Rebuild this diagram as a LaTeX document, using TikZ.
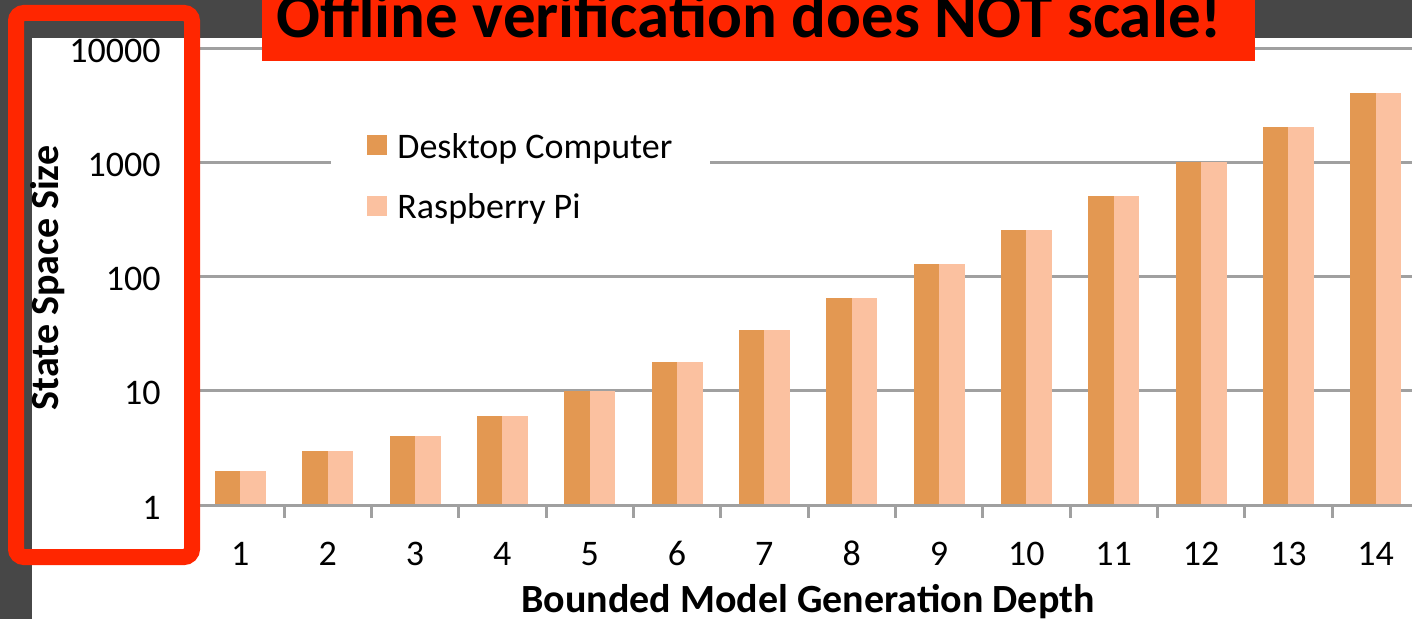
\documentclass[tikz,border=0pt]{standalone}
\usepackage{fontspec}
\setmainfont{Carlito}
\definecolor{slidegray}{RGB}{71,71,71}
\definecolor{alertred}{RGB}{255,38,0}
\definecolor{desktopbar}{RGB}{227,152,82}
\definecolor{pibar}{RGB}{251,193,160}
\definecolor{gridgray}{RGB}{160,160,160}
\tikzset{
	axislabel/.style={font=\fontsize{18}{21}\selectfont,inner sep=0pt},
	axistitle/.style={font=\fontsize{20}{24}\selectfont\bfseries,inner sep=0pt},
	gridline/.style={gridgray,line width=1.5pt},
}
\begin{document}
\begin{tikzpicture}[x=0.5pt,y=-0.5pt]
				\useasboundingbox (0,0) rectangle (1412,619);
				\clip (0,0) rectangle (1412,619);
				\fill[white] (0,0) rectangle (1412,619);
				\fill[slidegray] (0,0) rectangle (1412,38);
				\fill[slidegray] (0,0) rectangle (32,619);
				% grid, one line per decade
				\foreach \dec in {1,2,3,4} \draw[gridline] (200,505-114*\dec) to (1412,505-114*\dec);
				% bars
				\foreach \val [count=\k] in {2,3,4,6,10,18,34,66,130,258,514,1026,2050,4098} {
					\pgfmathsetmacro\barc{196.7+87.33*(\k-0.5)}
					\pgfmathsetmacro\bartop{505-114*ln(\val)/ln(10)}
					\fill[desktopbar] (\barc-25.5,505) rectangle (\barc,\bartop);
					\fill[pibar] (\barc,505) rectangle (\barc+25.5,\bartop);
					\node[axislabel,anchor=base] (xlab\k) at (\barc,565) {\k};
				}
				\draw[gridline] (200,505) to (1412,505);
				\foreach \k in {1,2,...,13} \draw[gridline] (196.7+87.33*\k,505) to (196.7+87.33*\k,518);
				\foreach \dec/\lab in {0/1,1/10,2/100,3/1000,4/10000} \node[axislabel,anchor=base east] (ylab\dec) at (161,519-114*\dec) {\lab};
				\node[axistitle,anchor=base] (xtitle) at (808,612) {Bounded Model Generation Depth};
				\node[axistitle,rotate=90] (ytitle) at (48,278) {State Space Size};
				% legend
				\fill[white] (331,118) rectangle (710,240);
				\fill[desktopbar] (367,135) rectangle (387,155);
				\fill[pibar] (367,196) rectangle (387,216);
				\node[axislabel,anchor=base west] (desktop) at (397,159) {Desktop Computer};
				\node[axislabel,anchor=base west] (pi) at (397,219) {Raspberry Pi};
				% title and frame
				\fill[alertred] (262,-5) rectangle (1255,61);
				\node[axistitle,font=\fontsize{32.5}{36}\selectfont\bfseries,anchor=base] (title) at (749,38) {Offline verification does NOT scale!};
				\draw[alertred,line width=8pt,rounded corners=4pt] (16,13) rectangle (192,557);
			\end{tikzpicture}
\end{document}
